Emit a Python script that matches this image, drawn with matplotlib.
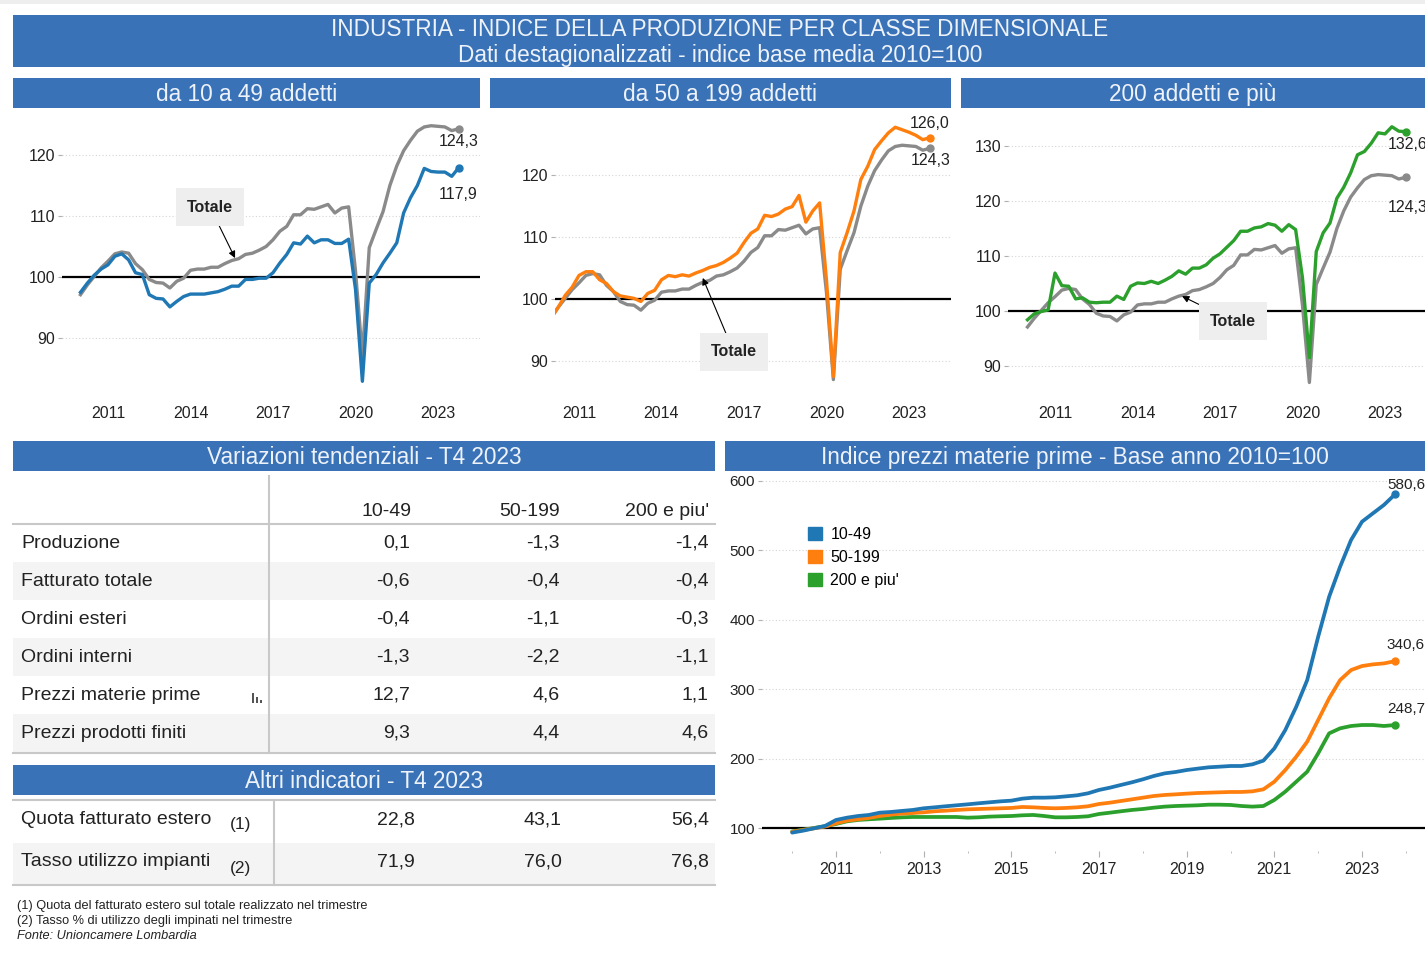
import numpy as np
import matplotlib
matplotlib.use("Agg")
import matplotlib.pyplot as plt
import matplotlib.patches as mpatches

plt.rcParams["font.family"] = ["Liberation Sans", "DejaVu Sans"]

# --- dati (trimestrali 2010T1 - 2023T4) ---
TRIMESTRI = [f"{a}T{q}" for a in range(2010, 2024) for q in range(1, 5)]

TOTALE = [97.1, 98.7, 100.1, 101.5, 102.6, 103.8, 104.1, 103.9,
          102.2, 101.2, 99.6, 99.1, 99.0, 98.2, 99.3, 99.8,
          101.1, 101.3, 101.3, 101.6, 101.6, 102.2, 102.7, 103.0,
          103.7, 103.9, 104.4, 105.0, 106.1, 107.5, 108.3, 110.2,
          110.2, 111.2, 111.1, 111.5, 111.9, 110.5, 111.3, 111.5,
          101.0, 87.0, 104.8, 107.8, 110.7, 115.0, 118.2, 120.7,
          122.4, 123.9, 124.6, 124.8, 124.7, 124.6, 124.0, 124.3]

PROD_10_49 = [97.5, 99.0, 100.3, 101.3, 102.0, 103.4, 103.8, 102.8,
              100.7, 100.4, 97.1, 96.5, 96.4, 95.1, 96.0, 96.8,
              97.2, 97.2, 97.2, 97.4, 97.6, 98.0, 98.5, 98.5,
              99.6, 99.6, 99.8, 99.8, 100.7, 102.3, 103.7, 105.6,
              105.4, 106.7, 105.6, 106.1, 106.1, 105.5, 105.5, 106.2,
              98.0, 82.9, 99.0, 100.4, 102.3, 103.9, 105.6, 110.5,
              113.0, 115.0, 117.8, 117.3, 117.2, 117.2, 116.5, 117.9]

PROD_50_199 = [97.0, 98.7, 100.6, 101.9, 103.8, 104.4, 104.4, 103.1,
               102.5, 101.2, 100.5, 100.3, 100.1, 99.6, 100.9, 101.4,
               103.1, 103.8, 103.6, 103.9, 103.7, 104.2, 104.6, 105.1,
               105.4, 105.9, 106.6, 107.4, 109.1, 110.6, 111.3, 113.5,
               113.3, 113.7, 114.5, 114.9, 116.7, 112.4, 114.2, 115.5,
               103.0, 87.5, 107.5, 110.7, 114.2, 119.3, 121.4, 124.1,
               125.5, 126.8, 127.7, 127.3, 126.9, 126.4, 125.7, 126.0]

PROD_200 = [98.4, 99.5, 99.9, 100.2, 106.9, 104.6, 104.5, 102.2,
            102.4, 101.6, 101.5, 101.6, 101.6, 102.7, 102.1, 104.5,
            105.1, 105.0, 105.4, 105.0, 105.6, 106.3, 107.3, 106.7,
            107.8, 107.8, 108.4, 109.6, 110.4, 111.6, 112.8, 114.5,
            114.5, 115.1, 115.3, 115.9, 115.6, 114.5, 115.7, 114.8,
            106.0, 91.5, 110.8, 114.2, 116.0, 120.5, 122.5, 125.1,
            128.4, 129.0, 130.5, 132.4, 132.2, 133.5, 132.7, 132.6]

PREZZI_10_49 = [93.8, 96.6, 100.0, 103.4, 112.0, 115.3, 117.7, 119.2,
                122.5, 123.5, 125.0, 126.4, 128.8, 130.2, 131.7, 133.1,
                134.5, 136.0, 137.4, 138.8, 139.8, 142.7, 144.1, 144.1,
                144.6, 146.0, 147.5, 150.4, 155.2, 158.5, 162.4, 166.2,
                170.5, 175.3, 179.1, 181.1, 183.9, 185.9, 187.8, 188.7,
                189.7, 189.7, 192.1, 197.4, 215.0, 241.5, 275.0, 313.4,
                375.8, 433.3, 476.5, 515.0, 541.4, 553.5, 565.5, 580.6]

PREZZI_50_199 = [95.0, 97.5, 100.0, 102.5, 107.2, 111.0, 113.0, 114.9,
                 117.7, 119.7, 121.1, 122.0, 123.0, 124.5, 125.4, 126.4,
                 127.3, 127.8, 128.3, 128.8, 129.3, 130.7, 130.2, 129.3,
                 128.8, 129.3, 130.2, 131.7, 135.0, 136.9, 139.3, 141.7,
                 144.1, 146.5, 148.0, 148.9, 149.9, 150.8, 151.3, 151.8,
                 152.3, 152.3, 153.2, 156.1, 167.1, 183.9, 203.1, 224.7,
                 255.9, 287.1, 313.4, 327.8, 333.6, 336.0, 337.4, 340.6]

PREZZI_200 = [95.5, 98.0, 100.5, 103.0, 106.2, 110.0, 112.0, 113.0,
              113.9, 114.9, 115.8, 116.3, 116.3, 116.3, 116.3, 116.3,
              115.3, 115.8, 116.8, 117.3, 117.7, 118.7, 119.2, 117.7,
              115.8, 115.8, 116.3, 117.3, 120.6, 122.5, 124.5, 126.4,
              127.8, 129.7, 131.2, 132.1, 132.6, 133.1, 134.0, 134.0,
              133.6, 132.1, 131.2, 132.1, 140.8, 152.8, 167.1, 181.5,
              207.9, 236.7, 243.9, 247.3, 248.7, 248.7, 247.3, 248.7]

CLASSI = ["10-49", "50-199", "200 e piu'"]

VAR_VOCI = ["Produzione", "Fatturato totale", "Ordini esteri",
            "Ordini interni", "Prezzi materie prime", "Prezzi prodotti finiti"]
VAR_10_49 = [0.1, -0.6, -0.4, -1.3, 12.7, 9.3]
VAR_50_199 = [-1.3, -0.4, -1.1, -2.2, 4.6, 4.4]
VAR_200 = [-1.4, -0.4, -0.3, -1.1, 1.1, 4.6]

ALTRI_VOCI = ["Quota fatturato estero", "Tasso utilizzo impianti"]
ALTRI_NOTE = ["(1)", "(2)"]
ALTRI_10_49 = [22.8, 71.9]
ALTRI_50_199 = [43.1, 76.0]
ALTRI_200 = [56.4, 76.8]

NOTE = ["(1) Quota del fatturato estero sul totale realizzato nel trimestre",
        "(2) Tasso % di utilizzo degli impinati nel trimestre"]
FONTE = "Fonte: Unioncamere Lombardia"

# --- stile ---
W, H = 1425, 956
BANNER = "#3a72b8"
BANNER_TXT = "#eef3fa"
GRIGIO = "#8a8a8a"
BLU, ARANCIO, VERDE = "#1f77b4", "#ff7f0e", "#2ca02c"
LINEA_TAB = "#c8c8c8"
FONDO_RIGA = "#f4f4f4"
TESTO = "#222222"
FS_BANNER = 16.3
FS_TAB = 14

t = np.array([int(q[:4]) + (int(q[-1]) - 1) / 4 for q in TRIMESTRI])


def fmt(v):
    return f"{v:.1f}".replace(".", ",")


def lim(p0, p1, va, pa, vb, pb):
    k = (vb - va) / (pb - pa)
    return va + (p0 - pa) * k, va + (p1 - pa) * k


def px_axes(x0, y0, x1, y1, xref, yref):
    ax = fig.add_axes([x0 / W, 1 - y1 / H, (x1 - x0) / W, (y1 - y0) / H])
    ax.set_xlim(*lim(x0, x1, *xref))
    ax.set_ylim(*lim(y1, y0, *yref))
    ax.patch.set_alpha(0)
    for s in ax.spines.values():
        s.set_visible(False)
    return ax


fig = plt.figure(figsize=(W / 100, H / 100), dpi=100)

ov = fig.add_axes([0, 0, 1, 1])
ov.set_xlim(0, W)
ov.set_ylim(H, 0)
ov.axis("off")


def banner(x0, y0, x1, y1, testo=None, size=FS_BANNER):
    ov.add_patch(mpatches.Rectangle((x0, y0), x1 - x0, y1 - y0, fc=BANNER, ec="none"))
    if testo:
        ov.text((x0 + x1) / 2, (y0 + y1) / 2 + 1, testo, ha="center", va="center",
                color=BANNER_TXT, fontsize=size)


ov.add_patch(mpatches.Rectangle((0, 0), W, 4, fc="#eeeeee", ec="none"))
banner(13, 15, W, 67)
ov.text(720, 29, "INDUSTRIA - INDICE DELLA PRODUZIONE PER CLASSE DIMENSIONALE",
        ha="center", va="center", color=BANNER_TXT, fontsize=FS_BANNER)
ov.text(720, 55, "Dati destagionalizzati - indice base media 2010=100",
        ha="center", va="center", color=BANNER_TXT, fontsize=FS_BANNER)
banner(13, 78, 480, 108, "da 10 a 49 addetti")
banner(490, 78, 951, 108, "da 50 a 199 addetti")
banner(961, 78, W, 108, "200 addetti e più")
banner(13, 441, 715, 471, "Variazioni tendenziali - T4 2023")
banner(725, 441, W, 471, "Indice prezzi materie prime - Base anno 2010=100")
banner(13, 765, 715, 795, "Altri indicatori - T4 2023")


def pannello(box, xref, yref, yticks, serie, colore, lab_tot, lab_ser, tot_xy, tot_off):
    ax = px_axes(*box, xref, yref)
    ax.plot(t, TOTALE, color=GRIGIO, lw=2.4, solid_joinstyle="round", zorder=3)
    ax.plot(t, serie, color=colore, lw=2.4, solid_joinstyle="round", zorder=4)
    ax.plot(t[-1], TOTALE[-1], "o", color=GRIGIO, ms=5, zorder=3)
    ax.plot(t[-1], serie[-1], "o", color=colore, ms=5, zorder=4)
    ax.axhline(100, color="black", lw=1.6, zorder=2)
    ax.set_yticks(yticks)
    ax.set_yticklabels([str(v) for v in yticks])
    ax.set_xticks([2011, 2014, 2017, 2020, 2023])
    ax.tick_params(axis="y", length=3, color="#b0b0b0", pad=2, labelsize=11.5,
                   labelcolor=TESTO)
    ax.tick_params(axis="x", length=0, pad=6, labelsize=11.5, labelcolor=TESTO)
    ax.grid(axis="y", linestyle=(0, (1, 2)), color="#d5d5d5", lw=0.8)
    ax.set_axisbelow(True)
    for val, off in [(TOTALE[-1], lab_tot), (serie[-1], lab_ser)]:
        ax.annotate(fmt(val), (t[-1], val), xytext=off, textcoords="offset points",
                    ha="center", va="center", fontsize=11.5, color=TESTO,
                    annotation_clip=False)
    ax.annotate("Totale", tot_xy, xytext=tot_off, textcoords="offset points",
                ha="center", va="center", fontsize=11.5, fontweight="bold", color=TESTO,
                bbox=dict(boxstyle="square,pad=0.7", fc="#eeeeee", ec="none"),
                arrowprops=dict(arrowstyle="-|>", color="black", lw=0.8,
                                mutation_scale=10, shrinkA=0, shrinkB=0),
                zorder=6)
    return ax


pannello((62, 112, 480, 398), (2011, 108, 2023, 438), (100, 277, 120, 155),
         [90, 100, 110, 120], PROD_10_49, BLU,
         (0, -9.5), (0, -19.5), (2015.62, 103.1), (-18, 36.7))
pannello((555, 112, 951, 398), (2011, 579, 2023, 909), (100, 299, 120, 175),
         [90, 100, 110, 120], PROD_50_199, ARANCIO,
         (1, -8.5), (0, 10.5), (2015.5, 103.4), (22.3, -53.3))
pannello((1008, 112, W, 398), (2011, 1055, 2023, 1385), (100, 311, 130, 146),
         [90, 100, 110, 120, 130], PROD_200, VERDE,
         (1.5, -21.5), (1.5, -9.5), (2015.62, 102.7), (36.7, -18))

# --- prezzi materie prime ---
axp = px_axes(762, 478, W, 851, (2011, 836, 2023, 1362), (100, 828.3, 600, 481))
for serie, colore, off in [(PREZZI_200, VERDE, (8, 11.5)),
                           (PREZZI_50_199, ARANCIO, (8, 11.5)),
                           (PREZZI_10_49, BLU, (8, 6.5))]:
    axp.plot(t, serie, color=colore, lw=2.7, solid_joinstyle="round",
             solid_capstyle="round", zorder=4)
    axp.plot(t[-1], serie[-1], "o", color=colore, ms=5, zorder=4)
    axp.annotate(fmt(serie[-1]), (t[-1], serie[-1]), xytext=off,
                 textcoords="offset points", ha="center", va="center",
                 fontsize=11, color=TESTO, annotation_clip=False)
axp.axhline(100, color="black", lw=1.6, zorder=2)
axp.set_yticks([100, 200, 300, 400, 500, 600])
axp.set_xticks(list(range(2011, 2024, 2)))
axp.set_xticks(list(range(2010, 2025, 2)), minor=True)
axp.tick_params(axis="y", length=3, color="#b0b0b0", pad=2, labelsize=11,
                labelcolor=TESTO)
axp.tick_params(axis="x", which="major", length=4, color="#b0b0b0", pad=4,
                labelsize=11.5, labelcolor=TESTO)
axp.tick_params(axis="x", which="minor", length=1.5, color="#b0b0b0")
axp.grid(axis="y", linestyle=(0, (1, 2)), color="#d5d5d5", lw=0.8)
axp.set_axisbelow(True)
axp.legend(handles=[mpatches.Patch(color=c, label=l)
                    for c, l in zip([BLU, ARANCIO, VERDE], CLASSI)],
           loc="upper left", bbox_to_anchor=(808 / W, 1 - 527 / H),
           bbox_transform=fig.transFigure, frameon=False, borderpad=0,
           borderaxespad=0, handlelength=0.85, handleheight=0.85,
           handletextpad=0.55, labelspacing=0.5, fontsize=11.5)

# --- tabella variazioni tendenziali ---
for i in range(1, len(VAR_VOCI), 2):
    yc = 543 + 38 * i
    ov.add_patch(mpatches.Rectangle((13, yc - 19), 702, 38, fc=FONDO_RIGA, ec="none"))
ov.plot([269, 269], [476, 753], color=LINEA_TAB, lw=1.5)
ov.plot([13, 715], [524, 524], color=LINEA_TAB, lw=1.5)
ov.plot([13, 715], [753, 753], color=LINEA_TAB, lw=1.5)
for xr, nome in zip([412, 560, 709], CLASSI):
    ov.text(xr, 512, nome, ha="right", va="center", fontsize=FS_TAB, color=TESTO)
for i, voce in enumerate(VAR_VOCI):
    yc = 543 + 38 * i
    ov.text(21, yc, voce, ha="left", va="center", fontsize=FS_TAB, color=TESTO)
    for xr, col in zip([410, 560, 709], [VAR_10_49, VAR_50_199, VAR_200]):
        ov.text(xr, yc, fmt(col[i]), ha="right", va="center", fontsize=FS_TAB,
                color=TESTO)
# piccola icona accanto a "Prezzi materie prime"
for xb, hb in zip([252, 256, 260], [10, 6, 3]):
    ov.add_patch(mpatches.Rectangle((xb, 703 - hb), 2, hb, fc="#555555", ec="none"))

# --- tabella altri indicatori ---
ov.add_patch(mpatches.Rectangle((13, 843), 702, 41, fc=FONDO_RIGA, ec="none"))
ov.plot([13, 715], [800, 800], color=LINEA_TAB, lw=1.5)
ov.plot([13, 715], [885, 885], color=LINEA_TAB, lw=1.5)
ov.plot([274, 274], [800, 885], color=LINEA_TAB, lw=1.5)
for i, (voce, nota) in enumerate(zip(ALTRI_VOCI, ALTRI_NOTE)):
    yc = 820 + 42 * i
    ov.text(21, yc, voce, ha="left", va="center", fontsize=FS_TAB, color=TESTO)
    ov.text(241, yc + 4 + 2 * i, nota, ha="center", va="center", fontsize=12.5,
            color=TESTO)
    for xr, col in zip([415, 562, 709], [ALTRI_10_49, ALTRI_50_199, ALTRI_200]):
        ov.text(xr, yc, fmt(col[i]), ha="right", va="center", fontsize=FS_TAB,
                color=TESTO)

for j, riga in enumerate(NOTE):
    ov.text(17, 906 + 15 * j, riga, ha="left", va="center", fontsize=9.2, color=TESTO)
ov.text(17, 936, FONTE, ha="left", va="center", fontsize=9.2, color=TESTO,
        style="italic")

fig.savefig("out.png", dpi=100)
